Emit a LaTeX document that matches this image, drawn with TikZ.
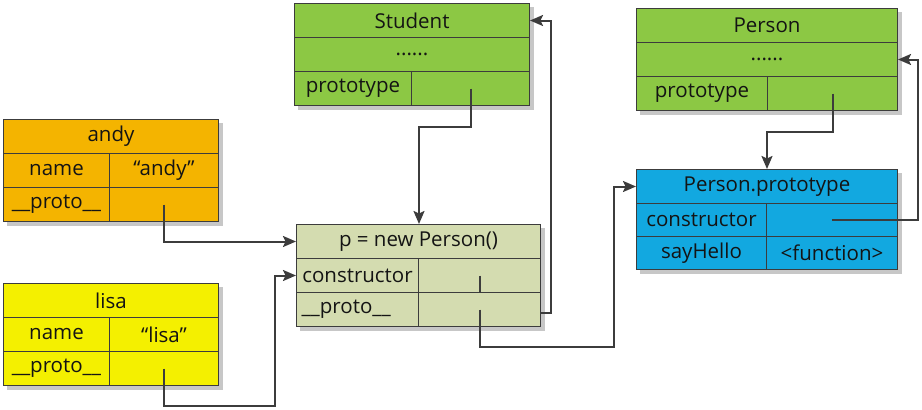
\documentclass[tikz,border=0pt]{standalone}
\usepackage{fontspec}
\setmainfont{Open Sans}
\usetikzlibrary{arrows.meta,calc}
\pgfdeclarelayer{background}
\pgfsetlayers{background,main}
\definecolor{grn}{RGB}{140,200,68}
\definecolor{org}{RGB}{244,180,0}
\definecolor{ylw}{RGB}{244,240,0}
\definecolor{olv}{RGB}{212,220,176}
\definecolor{blu}{RGB}{18,168,224}
\definecolor{edge}{RGB}{60,60,60}
\definecolor{wire}{RGB}{60,60,60}
\begin{document}
\begin{tikzpicture}[x=1pt,y=-1pt,
  cell/.style={draw=edge, line width=1pt, rectangle, inner sep=0pt, anchor=north west,
    font=\fontsize{20.5}{24}\selectfont, text=black!92},
  conn/.style={draw=wire, line width=2pt, -{Stealth[length=13pt,width=11pt,inset=2.5pt]}},
  plain/.style={draw=wire, line width=2pt},
  shade/.style={fill=black!22}]
\useasboundingbox (0,0) rectangle (922,410);

% Student
\node[cell, fill=grn, minimum width=235pt, minimum height=34pt] (stT) at (294,3) {Student};
\node[cell, fill=grn, minimum width=235pt, minimum height=34pt] (stD) at (294,37) {......};
\node[cell, fill=grn, minimum width=117pt, minimum height=34pt] (stPk) at (294,71) {prototype};
\node[cell, fill=grn, minimum width=118pt, minimum height=34pt] (stPv) at (411,71) {};

% Person
\node[cell, fill=grn, minimum width=261pt, minimum height=34pt] (peT) at (636,8) {Person};
\node[cell, fill=grn, minimum width=261pt, minimum height=34pt] (peD) at (636,42) {......};
\node[cell, fill=grn, minimum width=131pt, minimum height=34pt] (pePk) at (636,76) {prototype};
\node[cell, fill=grn, minimum width=130pt, minimum height=34pt] (pePv) at (767,76) {};

% andy
\node[cell, fill=org, minimum width=215pt, minimum height=34pt] (anT) at (3,119) {andy};
\node[cell, fill=org, minimum width=106pt, minimum height=34pt] (anNk) at (3,153) {name};
\node[cell, fill=org, minimum width=109pt, minimum height=34pt] (anNv) at (109,153) {“andy”};
\node[cell, fill=org, minimum width=106pt, minimum height=34pt] (anPk) at (3,187) {\_\_proto\_\_};
\node[cell, fill=org, minimum width=109pt, minimum height=34pt] (anPv) at (109,187) {};

% lisa
\node[cell, fill=ylw, minimum width=215pt, minimum height=34pt] (liT) at (3,283) {lisa};
\node[cell, fill=ylw, minimum width=106pt, minimum height=34pt] (liNk) at (3,317) {name};
\node[cell, fill=ylw, minimum width=109pt, minimum height=34pt] (liNv) at (109,317) {“lisa”};
\node[cell, fill=ylw, minimum width=106pt, minimum height=34pt] (liPk) at (3,351) {\_\_proto\_\_};
\node[cell, fill=ylw, minimum width=109pt, minimum height=34pt] (liPv) at (109,351) {};

% p = new Person()
\node[cell, fill=olv, minimum width=244pt, minimum height=34pt] (pT) at (296,224) {p = new Person()};
\node[cell, fill=olv, minimum width=122pt, minimum height=34pt] (pCk) at (296,258) {constructor};
\node[cell, fill=olv, minimum width=122pt, minimum height=34pt] (pCv) at (418,258) {};
\node[cell, fill=olv, minimum width=122pt, minimum height=34pt, text width=112pt, align=left] (pPk) at (296,292) {\_\_proto\_\_};
\node[cell, fill=olv, minimum width=122pt, minimum height=34pt] (pPv) at (418,292) {};

% Person.prototype
\node[cell, fill=blu, minimum width=261pt, minimum height=34pt] (ppT) at (636,169) {Person.prototype};
\node[cell, fill=blu, minimum width=130pt, minimum height=33pt] (ppCk) at (636,203) {constructor};
\node[cell, fill=blu, minimum width=131pt, minimum height=33pt] (ppCv) at (766,203) {};
\node[cell, fill=blu, minimum width=130pt, minimum height=33pt] (ppSk) at (636,236) {sayHello};
\node[cell, fill=blu, minimum width=131pt, minimum height=33pt] (ppSv) at (766,236) {<function>};

% shadows
\begin{pgfonlayer}{background}
\fill[shade] ($(stT.north west)+(4,4)$) rectangle ($(stPv.south east)+(4,4)$);
\fill[shade] ($(peT.north west)+(4,4)$) rectangle ($(pePv.south east)+(4,4)$);
\fill[shade] ($(anT.north west)+(4,4)$) rectangle ($(anPv.south east)+(4,4)$);
\fill[shade] ($(liT.north west)+(4,4)$) rectangle ($(liPv.south east)+(4,4)$);
\fill[shade] ($(pT.north west)+(4,4)$) rectangle ($(pPv.south east)+(4,4)$);
\fill[shade] ($(ppT.north west)+(4,4)$) rectangle ($(ppSv.south east)+(4,4)$);
\end{pgfonlayer}

% connectors
\draw[conn] (stPv.center) -- ++(0,38) -| (pT.north -| pCk.east);
\draw[conn] (anPv.center) |- (pT.west);
\draw[conn] (liPv.center) -- ++(0,37) -| ([xshift=-21pt]pCk.west) -- (pCk.west);
\draw[plain] (pCv.center) -- (pCv.south);
\draw[conn] (pPv.center) -- ++(0,37) -| ([xshift=-22pt]ppT.west) -- (ppT.west);
\draw[conn] ([yshift=-3pt]pPv.east) -- ++(10,0) |- (stT.east);
\draw[conn] (pePv.center) -- ++(0,38) -| (ppT.north -| ppCk.east);
\draw[conn] (ppCv.center) -- ++(86,0) |- (peD.east);
\end{tikzpicture}
\end{document}
